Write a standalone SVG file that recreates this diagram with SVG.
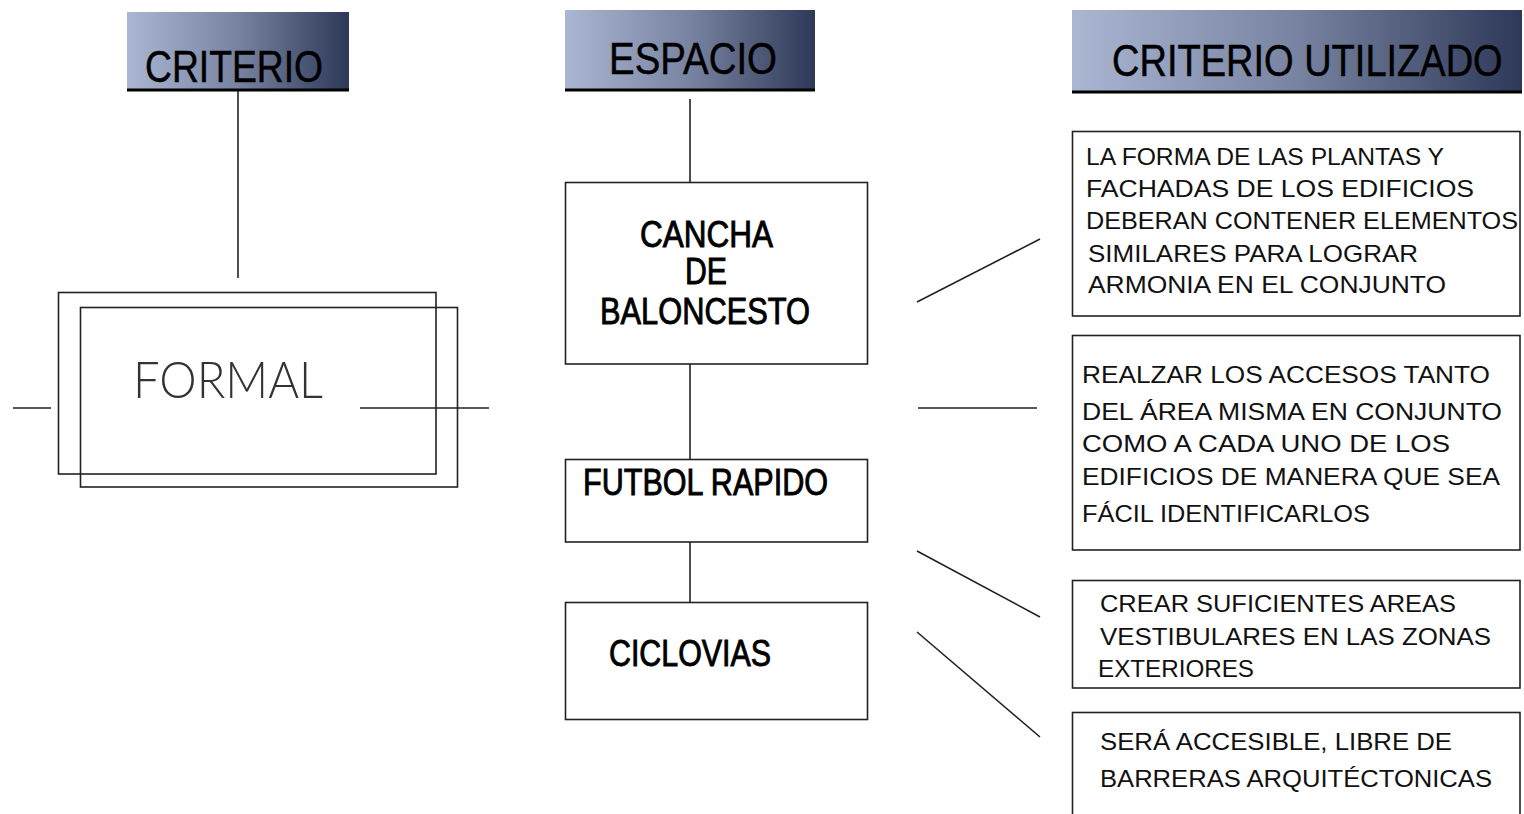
<svg xmlns="http://www.w3.org/2000/svg" width="1524" height="814" viewBox="0 0 1524 814">
<defs>
<linearGradient id="hg" x1="0" y1="0" x2="1" y2="0">
<stop offset="0" stop-color="#aab6d2"/>
<stop offset="0.5" stop-color="#7883a1"/>
<stop offset="1" stop-color="#2e3959"/>
</linearGradient>
<style>
.hdr{fill:url(#hg);}
.hline{stroke:#000;stroke-width:3;}
.box{fill:#fff;stroke:#222;stroke-width:1.6;}
.ln{stroke:#222;stroke-width:1.6;fill:none;}
.ht{font-family:"Liberation Sans",Arial,sans-serif;font-size:44px;fill:#000;stroke:#000;stroke-width:0.5;}
.mt{font-family:"Liberation Sans",Arial,sans-serif;font-size:36px;fill:#000;stroke:#000;stroke-width:0.9;}
.rt{font-family:"Liberation Sans",Arial,sans-serif;font-size:24px;fill:#111;}
.ft{font-family:"Lato","DejaVu Sans",sans-serif;font-weight:300;font-size:51px;fill:#333;}
</style>
</defs>
<rect width="1524" height="814" fill="#fff"/>

<g id="hdr-criterio">
<rect class="hdr" x="127" y="12" width="222" height="77"/>
<line class="hline" x1="127" y1="90" x2="349" y2="90"/>
<text class="ht" x="145" y="82" textLength="178" lengthAdjust="spacingAndGlyphs">CRITERIO</text>
</g>
<g id="hdr-espacio">
<rect class="hdr" x="565" y="10" width="250" height="79"/>
<line class="hline" x1="565" y1="90" x2="815" y2="90"/>
<text class="ht" x="609" y="74" font-size="48" textLength="168" lengthAdjust="spacingAndGlyphs">ESPACIO</text>
</g>
<g id="hdr-criterio-utilizado">
<rect class="hdr" x="1072" y="10" width="450" height="81"/>
<line class="hline" x1="1072" y1="92" x2="1522" y2="92"/>
<text class="ht" font-size="45" transform="translate(1112,76) scale(0.864,1)">CRITERIO UTILIZADO</text>
</g>

<g id="connectors">
<line class="ln" x1="238" y1="91" x2="238" y2="278"/>
<line class="ln" x1="690" y1="99" x2="690" y2="182"/>
<line class="ln" x1="690" y1="364" x2="690" y2="459"/>
<line class="ln" x1="690" y1="542" x2="690" y2="602"/>
<line class="ln" x1="13" y1="408" x2="51" y2="408"/>
<line class="ln" x1="360" y1="408" x2="489" y2="408"/>
<line class="ln" x1="917" y1="302" x2="1040" y2="239"/>
<line class="ln" x1="918" y1="408" x2="1037" y2="408"/>
<line class="ln" x1="917" y1="551" x2="1040" y2="617"/>
<line class="ln" x1="917" y1="632" x2="1040" y2="737"/>
</g>

<g id="formal">
<rect class="box" x="58.5" y="292.5" width="377.5" height="181.5" style="fill:none"/>
<rect class="box" x="80.5" y="307.5" width="377" height="179.5" style="fill:none"/>
<text class="ft" x="133" y="398" textLength="190" lengthAdjust="spacingAndGlyphs">FORMAL</text>
</g>

<g id="cancha">
<rect class="box" x="565.5" y="182.5" width="302" height="181.5"/>
<text class="mt" x="640" y="247" textLength="133" lengthAdjust="spacingAndGlyphs">CANCHA</text>
<text class="mt" x="685" y="284" textLength="42" lengthAdjust="spacingAndGlyphs">DE</text>
<text class="mt" x="600" y="324" textLength="210" lengthAdjust="spacingAndGlyphs">BALONCESTO</text>
</g>
<g id="futbol">
<rect class="box" x="565.5" y="459.5" width="302" height="82.5"/>
<text class="mt" x="583" y="495" textLength="245" lengthAdjust="spacingAndGlyphs">FUTBOL RAPIDO</text>
</g>
<g id="ciclovias">
<rect class="box" x="565.5" y="602.5" width="302" height="117"/>
<text class="mt" x="609" y="666" textLength="162" lengthAdjust="spacingAndGlyphs">CICLOVIAS</text>
</g>

<g id="crit1">
<rect class="box" x="1072.5" y="131.5" width="447.5" height="184.5"/>
<text class="rt" x="1086" y="165" textLength="358" lengthAdjust="spacingAndGlyphs">LA FORMA DE LAS PLANTAS Y</text>
<text class="rt" x="1086" y="197" textLength="388" lengthAdjust="spacingAndGlyphs">FACHADAS DE LOS EDIFICIOS</text>
<text class="rt" x="1086" y="229" textLength="432" lengthAdjust="spacingAndGlyphs">DEBERAN  CONTENER ELEMENTOS</text>
<text class="rt" x="1088" y="262" textLength="330" lengthAdjust="spacingAndGlyphs">SIMILARES PARA LOGRAR</text>
<text class="rt" x="1088" y="293" textLength="358" lengthAdjust="spacingAndGlyphs">ARMONIA EN EL CONJUNTO</text>
</g>
<g id="crit2">
<rect class="box" x="1072.5" y="335.5" width="447.5" height="214.5"/>
<text class="rt" x="1082" y="383" textLength="408" lengthAdjust="spacingAndGlyphs">REALZAR LOS ACCESOS TANTO</text>
<text class="rt" x="1082" y="420" textLength="420" lengthAdjust="spacingAndGlyphs">DEL ÁREA MISMA EN CONJUNTO</text>
<text class="rt" x="1082" y="452" textLength="368" lengthAdjust="spacingAndGlyphs">COMO A CADA UNO DE LOS</text>
<text class="rt" x="1082" y="485" textLength="418" lengthAdjust="spacingAndGlyphs">EDIFICIOS DE MANERA QUE SEA</text>
<text class="rt" x="1082" y="522" textLength="288" lengthAdjust="spacingAndGlyphs">FÁCIL IDENTIFICARLOS</text>
</g>
<g id="crit3">
<rect class="box" x="1072.5" y="580.5" width="447.5" height="107.5"/>
<text class="rt" x="1100" y="612" textLength="356" lengthAdjust="spacingAndGlyphs">CREAR SUFICIENTES AREAS</text>
<text class="rt" x="1100" y="645" textLength="391" lengthAdjust="spacingAndGlyphs">VESTIBULARES EN LAS ZONAS</text>
<text class="rt" x="1098" y="677" textLength="156" lengthAdjust="spacingAndGlyphs">EXTERIORES</text>
</g>
<g id="crit4">
<rect class="box" x="1072.5" y="712.5" width="447.5" height="110"/>
<text class="rt" x="1100" y="750" textLength="352" lengthAdjust="spacingAndGlyphs">SERÁ ACCESIBLE, LIBRE DE</text>
<text class="rt" x="1100" y="787" textLength="392" lengthAdjust="spacingAndGlyphs">BARRERAS ARQUITÉCTONICAS</text>
</g>
</svg>
